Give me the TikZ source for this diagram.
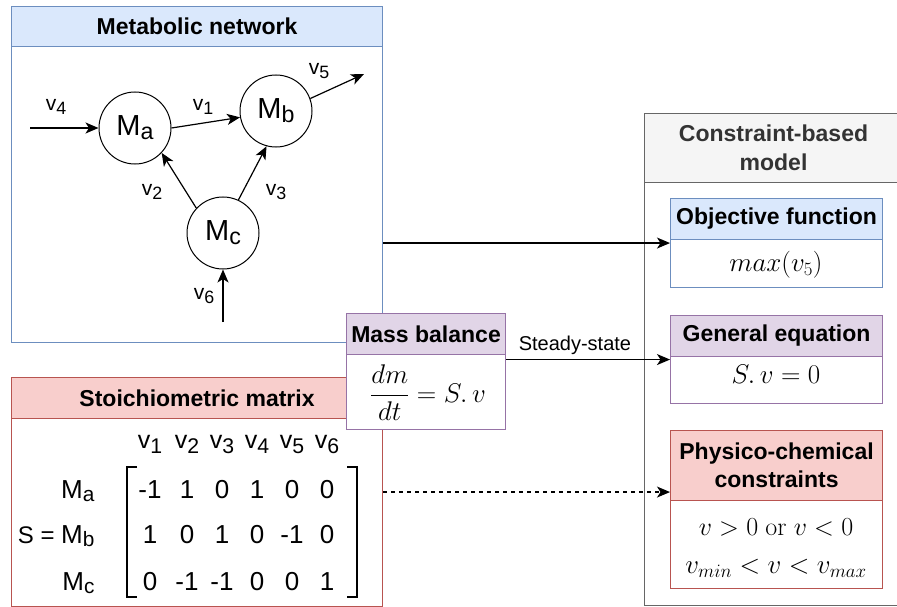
\RequirePackage{fix-cm}
\documentclass[tikz,border=0pt]{standalone}
\usepackage[no-math]{fontspec}
\setmainfont{Liberation Sans}
\usetikzlibrary{arrows.meta}
\definecolor{bluefill}{HTML}{DAE8FC}
\definecolor{bluedraw}{HTML}{6C8EBF}
\definecolor{purfill}{HTML}{E1D5E7}
\definecolor{purdraw}{HTML}{9673A6}
\definecolor{redfill}{HTML}{F8CECC}
\definecolor{reddraw}{HTML}{B85450}
\definecolor{grayfill}{HTML}{F5F5F5}
\definecolor{graydraw}{HTML}{666666}
\definecolor{graytext}{HTML}{333333}
\newcommand\fs[2]{\fontsize{#1}{#2}\selectfont}
\newcommand\vsub[1]{v\raisebox{-0.22em}{\scalebox{0.85}{#1}}}
\newcommand\msub[1]{M\raisebox{-0.14em}{\scalebox{0.8}{#1}}}
\tikzset{
  cont/.style={draw=#1, line width=1.1pt, fill=white, anchor=north west, inner sep=0pt},
  head/.style 2 args={draw=#1, line width=1.1pt, fill=#2, anchor=north west, inner sep=0pt, align=center, font=\fs{23}{28}\bfseries},
  met/.style={circle, draw, fill=white, line width=1pt, minimum size=72pt, inner sep=0pt, font=\fs{29}{32}},
  arr/.style={-{Stealth[length=13pt,width=11pt,inset=3.5pt]}, line width=1.2pt},
  vlab/.style={font=\fs{21}{24}},
  mtx/.style={font=\fs{26}{30}, anchor=base},
  mth/.style={font=\fs{27}{32}, anchor=base},
  brk/.style={line width=1.3pt}
}
\begin{document}
\begin{tikzpicture}[x=1pt,y=-1pt]
\useasboundingbox (0,0) rectangle (897,607);

% Metabolic network container
\node[cont=bluedraw, minimum width=371pt, minimum height=336pt] (metab) at (11,6) {};
\node[head={bluedraw}{bluefill}, minimum width=371pt, minimum height=40pt] (metabh) at (11,6) {Metabolic network};

% Stoichiometric matrix container
\node[cont=reddraw, minimum width=371pt, minimum height=229pt] (stoich) at (11,377) {};
\node[head={reddraw}{redfill}, minimum width=371pt, minimum height=41pt] (stoichh) at (11,377) {Stoichiometric matrix};

% Constraint-based model container
\node[cont=graydraw, minimum width=258pt, minimum height=492pt] (cbm) at (644,113) {};
\node[head={graydraw}{grayfill}, minimum width=258pt, minimum height=69pt, text=graytext, font=\fs{23}{29}\bfseries] (cbmh) at (644,113) {Constraint-based\\model};

% Objective function
\node[cont=bluedraw, minimum width=212pt, minimum height=89pt] (obj) at (670,198) {};
\node[head={bluedraw}{bluefill}, minimum width=212pt, minimum height=41pt] (objh) at (670,198) {Objective function};
\node[mth] (objc) at (776,271) {$max(v_5)$};

% General equation
\node[cont=purdraw, minimum width=212pt, minimum height=88pt] (gen) at (670,315) {};
\node[head={purdraw}{purfill}, minimum width=212pt, minimum height=41pt] (genh) at (670,315) {General equation};
\node[mth] (genc) at (776,383) {$S.\,v = 0$};

% Physico-chemical constraints
\node[cont=reddraw, minimum width=212pt, minimum height=158pt] (phys) at (670,430) {};
\node[head={reddraw}{redfill}, minimum width=212pt, minimum height=70pt] (physh) at (670,430) {Physico-chemical\\constraints};
\node[mth, font=\fs{26}{30}] (physa) at (776,535) {$v > 0 \ \mathrm{or}\ v < 0$};
\node[mth] (physb) at (776,573) {$v_{min} < v < v_{max}$};

% Network
\node[met] (Ma) at (135,128) {\msub{a}};
\node[met] (Mb) at (276,111) {\msub{b}};
\node[met] (Mc) at (223,233) {\msub{c}};
\coordinate (v4s) at (30,128);
\coordinate (v5e) at (364,74);
\coordinate (v6s) at (223,322);
\draw[arr] (v4s) -- (Ma.west);
\draw[arr] (Ma.0) -- (Mb.190);
\draw[arr] (Mb.20) -- (v5e);
\draw[arr] (Mc.137) -- (Ma.-43);
\draw[arr] (Mc.65) -- (Mb.-105);
\draw[arr] (v6s) -- (Mc.south);
\node[vlab] (l4) at (56,107) {\vsub{4}};
\node[vlab] (l1) at (203,107) {\vsub{1}};
\node[vlab] (l5) at (319,71) {\vsub{5}};
\node[vlab] (l2) at (152,192) {\vsub{2}};
\node[vlab] (l3) at (276,192) {\vsub{3}};
\node[vlab] (l6) at (204,296) {\vsub{6}};

% Mass balance (on top)
\node[cont=purdraw, minimum width=159pt, minimum height=116pt] (mass) at (346,313) {};
\node[head={purdraw}{purfill}, minimum width=159pt, minimum height=41pt] (massh) at (346,313) {Mass balance};
\node[mth] (massc) at (428,402) {$\displaystyle\frac{dm}{dt} = S.\,v$};

% Matrix
\foreach \i/\x in {1/150,2/187,3/222,4/257,5/292,6/327}{
  \node[mtx, font=\fs{25}{30}] (ch\i) at (\x,448) {\vsub{\i}};
}
\foreach \x/\a/\b/\c in {150/-1/1/0, 187/1/0/-1, 222/0/1/-1, 257/1/0/0, 292/0/-1/0, 327/0/0/1}{
  \node[mtx] at (\x,498) {\a};
  \node[mtx] at (\x,543) {\b};
  \node[mtx] at (\x,590) {\c};
}
\node[mtx, anchor=base east] (ra) at (98,498) {\msub{a}};
\node[mtx, anchor=base east] (rb) at (98,543) {{\fs{24}{28}S = }\msub{b}};
\node[mtx, anchor=base east] (rc) at (98,590) {\msub{c}};
\draw[brk] (137,467) -- (127,467) -- (127,597) -- (137,597);
\draw[brk] (347,467) -- (357,467) -- (357,597) -- (347,597);

% Connectors
\draw[arr] (metab.east |- obj.west) -- (obj.west);
\draw[arr] (mass.east |- gen.west) -- node[pos=0.42, above, font=\fs{20}{24}, yshift=1pt] (ss) {Steady-state} (gen.west);
\draw[arr, dashed, dash pattern=on 4pt off 4pt] (stoich.east) -- (stoich.east -| phys.west);
\end{tikzpicture}
\end{document}
